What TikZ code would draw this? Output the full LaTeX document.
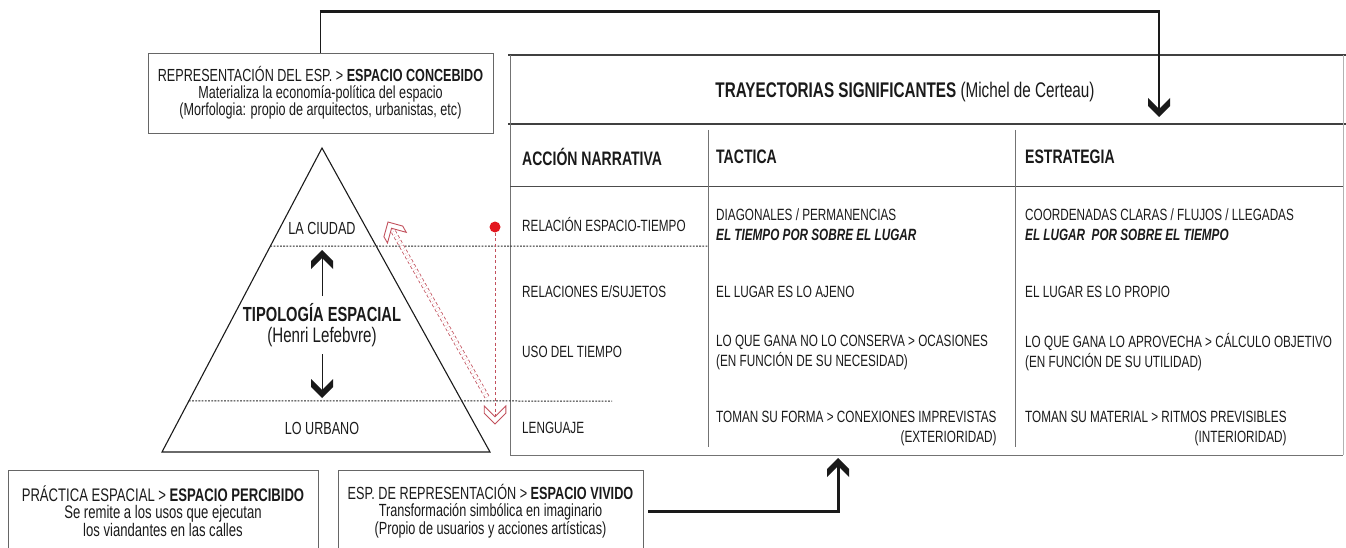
\documentclass[tikz,border=0pt]{standalone}
\usepackage{fontspec}
\setmainfont{Liberation Sans}[FakeStretch=0.72]
\usetikzlibrary{calc}
\definecolor{ink}{HTML}{1A1A1A}
\definecolor{redot}{HTML}{E3161E}
\definecolor{reddash}{HTML}{C2505C}
\begin{document}
\begin{tikzpicture}[x=1pt,y=-1pt,
  lbl/.style={inner sep=0pt, text=ink, font=\fontsize{16.3}{20}\selectfont},
  cell/.style={lbl, anchor=west, align=left},
  headcell/.style={lbl, anchor=west, font=\fontsize{19.5}{21}\selectfont\bfseries},
  infobox/.style={draw=black!60, line width=0.9pt, align=center, inner sep=0pt, text=ink},
  dots/.style={draw=black!85, line width=1pt, dash pattern=on 1.8pt off 1.4pt},
  redline/.style={draw=reddash, line width=0.9pt, dash pattern=on 3pt off 2.5pt},
  tabrule/.style={draw=black!55, line width=0.8pt},
  % thick filled chevron, tip at the origin, pointing along +x
  blackchev/.pic={\fill[ink]
     (0,0) -- (-11,11) -- (-19,11) -- (-8,0) -- (-19,-11) -- (-11,-11) -- cycle;},
  % hollow red chevron, same orientation
  hollowchev/.pic={\draw[draw=reddash, line width=0.9pt, fill=white, line join=miter, scale=1.2]
     (0,0) -- (-9,9) -- (-15,9) -- (-6,0) -- (-15,-9) -- (-9,-9) -- cycle;}]
\useasboundingbox (0,0) rectangle (1346,548);

% ---------- boxes of the three spaces ----------
\node[infobox, minimum width=345pt, minimum height=80pt,
      font=\fontsize{17.5}{16.8}\selectfont] (concebido) at (320.5,93)
  {REPRESENTACIÓN DEL ESP. > \textbf{ESPACIO CONCEBIDO}\\
   Materializa la economía-política del espacio\\
   (Morfologia: propio de arquitectos, urbanistas, etc)};
\node[infobox, minimum width=310pt, minimum height=82pt,
      font=\fontsize{18.2}{17.6}\selectfont] (percibido) at (163,511)
  {PRÁCTICA ESPACIAL > \textbf{ESPACIO PERCIBIDO}\\
   Se remite a los usos que ejecutan\\
   los viandantes en las calles};
\node[infobox, minimum width=305pt, minimum height=82pt,
      font=\fontsize{17.6}{17.6}\selectfont] (vivido) at (490.5,511)
  {ESP. DE REPRESENTACIÓN > \textbf{ESPACIO VIVIDO}\\
   Transformación simbólica en imaginario\\
   (Propio de usuarios y acciones artísticas)};

% ---------- table: trayectorias significantes ----------
\draw[draw=black!75, line width=1.5pt] (508,55) -- (1346,55);
\draw[draw=black!75, line width=1.2pt] (508,124) -- (1346,124);
\draw[tabrule] (510,55) -- (510,455) -- (1343,455);
\draw[draw=black!30, line width=0.8pt] (1343,55) -- (1343,455);
\draw[draw=black!70, line width=1pt] (510,187) -- (1343,187);
\draw[tabrule] (708,130) -- (708,447);
\draw[tabrule] (1015,130) -- (1015,447);

\node[lbl, font=\fontsize{21.2}{22}\selectfont] (titulo) at (905,92)
  {\textbf{TRAYECTORIAS SIGNIFICANTES} (Michel de Certeau)};

\node[headcell] (hacc) at (522,157) {ACCIÓN NARRATIVA};
\node[headcell] (htac) at (716,157) {TACTICA};
\node[headcell] (hest) at (1025,157) {ESTRATEGIA};

\node[cell] (r1a) at (522,225) {RELACIÓN ESPACIO-TIEMPO};
\node[cell] (r1b) at (716,225) {DIAGONALES / PERMANENCIAS\\\textbf{\textit{EL TIEMPO POR SOBRE EL LUGAR}}};
\node[cell] (r1c) at (1025,225) {COORDENADAS CLARAS / FLUJOS / LLEGADAS\\\textbf{\textit{EL LUGAR~ POR SOBRE EL TIEMPO}}};

\node[cell] (r2a) at (522,292) {RELACIONES E/SUJETOS};
\node[cell] (r2b) at (716,292) {EL LUGAR ES LO AJENO};
\node[cell] (r2c) at (1025,292) {EL LUGAR ES LO PROPIO};

\node[cell] (r3a) at (522,352) {USO DEL TIEMPO};
\node[cell] (r3b) at (716,352) {LO QUE GANA NO LO CONSERVA > OCASIONES\\(EN FUNCIÓN DE SU NECESIDAD)};
\node[cell] (r3c) at (1025,352) {LO QUE GANA LO APROVECHA > CÁLCULO OBJETIVO\\(EN FUNCIÓN DE SU UTILIDAD)};

\node[cell] (r4a) at (522,428) {LENGUAJE};
\node[cell, align=right] (r4b) at (716,428) {TOMAN SU FORMA > CONEXIONES IMPREVISTAS\\(EXTERIORIDAD)};
\node[cell, align=right] (r4c) at (1025,428) {TOMAN SU MATERIAL > RITMOS PREVISIBLES\\(INTERIORIDAD)};

% ---------- triangle of spatial typology ----------
\coordinate (apex) at (322,148);
\coordinate (bl) at (162,452);
\coordinate (br) at (490,452);
\draw[ink, line width=1.1pt] (apex) -- (bl) -- (br) -- cycle;
\draw[dots] ($(apex)!0.3224!(bl)$) -- (708,246);
\draw[dots] ($(apex)!0.8322!(bl)$) -- (612,401);

\node[lbl, font=\fontsize{17.5}{19}\selectfont] (ciudad) at (322,228) {LA CIUDAD};
\node[lbl, font=\fontsize{17.5}{19}\selectfont] (urbano) at (322,428) {LO URBANO};
\node[lbl, font=\fontsize{20.4}{22}\selectfont\bfseries] (tipo) at (322,313) {TIPOLOGÍA ESPACIAL};
\node[lbl, font=\fontsize{21}{22}\selectfont] (lefebvre) at (322,337) {(Henri Lefebvre)};
\coordinate (uptip) at (322,250);
\coordinate (dntip) at (322,398);
\draw[ink, line width=1pt] (322,296) -- ($(uptip)+(0,8)$);
\pic[rotate=90] at (uptip) {blackchev};
\draw[ink, line width=1pt] (322,354) -- ($(dntip)+(0,-8)$);
\pic[rotate=-90] at (dntip) {blackchev};

% ---------- red movement marks ----------
\node[circle, fill=redot, inner sep=0pt, minimum size=11pt] (dot) at (495,227) {};
\coordinate (dotend) at (495,424);
\draw[redline] (dot) -- ($(dotend)+(0,-7)$);
\pic[rotate=-90] at (dotend) {hollowchev};
\coordinate (diagS) at (487,397);
\coordinate (diagT) at (388,222);
\draw[redline, line width=0.8pt, double=white, double distance=3.5pt]
  (diagS) -- ($(diagT)!8pt!(diagS)$);
\pic[rotate=119.5] at (diagT) {hollowchev};

% ---------- connectors ----------
\coordinate (ta) at (concebido.north |- 0,12);
\coordinate (tb) at (1159,12);
\coordinate (ttip) at (1159,117);
\draw[ink, line width=1.2pt] (concebido.north) -- (ta);
\draw[ink, line width=3pt] ([xshift=-0.6pt]ta) -- ([xshift=0.6pt]tb);
\draw[ink, line width=1.2pt] (tb) -- ($(ttip)+(0,-8)$);
\pic[rotate=-90] at (ttip) {blackchev};

\coordinate (bturn) at (838,511);
\coordinate (btip) at (838,458);
\draw[ink, line width=3pt] ([xshift=5pt]vivido.east) -- (bturn) -- ($(btip)+(0,8)$);
\pic[rotate=90] at (btip) {blackchev};
\end{tikzpicture}
\end{document}
